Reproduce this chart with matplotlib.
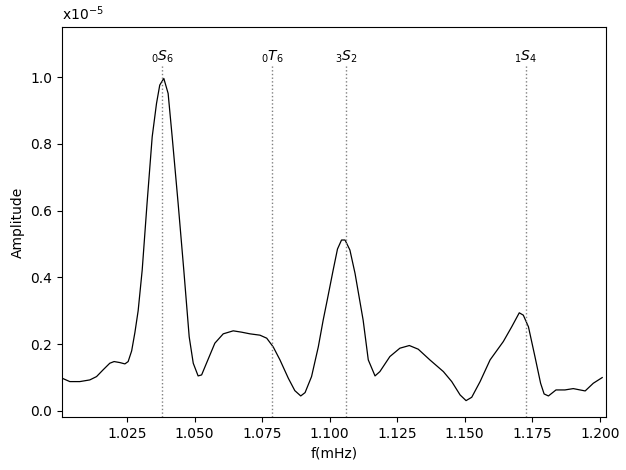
import matplotlib
matplotlib.use("Agg")
import matplotlib.pyplot as plt

# spectrum (f in mHz, amplitude in units of 1e-5)
freq = [1.0010, 1.0038, 1.0075, 1.0112, 1.0137, 1.0161, 1.0186, 1.0202, 1.0223,
        1.0242, 1.0254, 1.0267, 1.0279, 1.0291, 1.0306, 1.0324, 1.0343, 1.0359,
        1.0371, 1.0386, 1.0402, 1.0417, 1.0439, 1.0460, 1.0480, 1.0495,
        1.0513, 1.0526, 1.0544, 1.0575, 1.0606, 1.0643, 1.0674, 1.0705, 1.0742,
        1.0767, 1.0791, 1.0816, 1.0847, 1.0871, 1.0893, 1.0909, 1.0933, 1.0958,
        1.0976, 1.0991, 1.1013, 1.1029, 1.1044, 1.1057, 1.1075, 1.1094, 1.1124,
        1.1143, 1.1168, 1.1186, 1.1223, 1.1260, 1.1295, 1.1328, 1.1371, 1.1421,
        1.1452, 1.1483, 1.1505, 1.1526, 1.1557, 1.1594, 1.1643, 1.1674, 1.1702,
        1.1717, 1.1736, 1.1760, 1.1781, 1.1794, 1.1810, 1.1838, 1.1871, 1.1902,
        1.1927, 1.1946, 1.1976, 1.2009]
amp = [0.098, 0.088, 0.088, 0.093, 0.103, 0.123, 0.143, 0.148, 0.145,
       0.141, 0.148, 0.180, 0.235, 0.300, 0.422, 0.622, 0.821, 0.921,
       0.976, 0.996, 0.951, 0.821, 0.622, 0.422, 0.222, 0.143,
       0.105, 0.108, 0.143, 0.203, 0.231, 0.240, 0.236, 0.231, 0.227,
       0.218, 0.192, 0.153, 0.098, 0.061, 0.045, 0.055, 0.103, 0.192,
       0.272, 0.332, 0.422, 0.485, 0.512, 0.512, 0.482, 0.412, 0.272,
       0.153, 0.105, 0.118, 0.163, 0.188, 0.196, 0.185, 0.153, 0.118,
       0.088, 0.048, 0.031, 0.041, 0.088, 0.153, 0.208, 0.252, 0.294,
       0.287, 0.252, 0.163, 0.083, 0.051, 0.045, 0.063, 0.063, 0.067,
       0.063, 0.060, 0.083, 0.100]

modeNames = ["$_0S_6$", "$_0T_6$", "$_3S_2$", "$_1S_4$"]
modeFreqs = [1.0380, 1.0787, 1.1061, 1.1727]

fig = plt.figure(figsize=(6.26, 4.70), dpi=100)
ax = fig.add_subplot(111)

ax.plot(freq, amp, color='k', linewidth=0.9)

ymin, ymax = -0.018, 1.15
for name, f in zip(modeNames, modeFreqs):
    ax.vlines(f, ymin, 1.038, colors='gray', linestyles=':', linewidth=1)
    ax.text(f, 1.035, name, ha='center', va='bottom', fontsize=10)

ax.set_xlim(1.0009, 1.2023)
ax.set_ylim(ymin, ymax)
ax.set_xticks([1.025, 1.050, 1.075, 1.100, 1.125, 1.150, 1.175, 1.200])
ax.set_yticks([0.0, 0.2, 0.4, 0.6, 0.8, 1.0])
ax.set_xlabel("f(mHz)")
ax.set_ylabel("Amplitude")
ax.text(0.0, 1.01, "x10$^{-5}$", transform=ax.transAxes, ha='left', va='bottom', fontsize=10)

plt.subplots_adjust(left=0.099, right=0.968, top=0.9426, bottom=0.1128)
plt.savefig("out.png", dpi=100)
